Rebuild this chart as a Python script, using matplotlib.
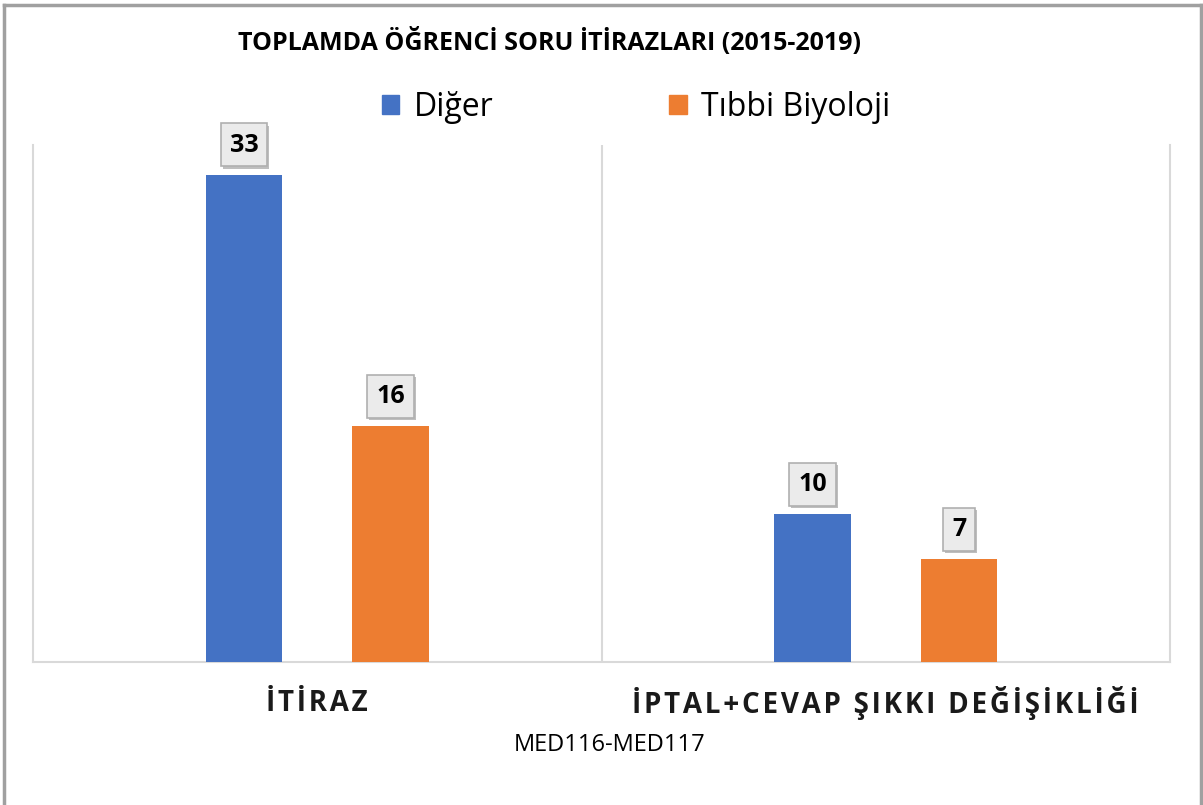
import matplotlib.pyplot as plt
import numpy as np
import matplotlib.patheffects as pe
from matplotlib.lines import Line2D
from matplotlib.patches import Patch

# data
categories = ["İTİRAZ", "İPTAL+CEVAP ŞIKKI DEĞİŞİKLİĞİ"]
series = ["Diğer", "Tıbbi Biyoloji"]
values = [[33, 10],   # Diğer
          [16, 7]]    # Tıbbi Biyoloji
colors = ["#4472C4", "#ED7D31"]

plt.rcParams['font.family'] = ['Open Sans', 'DejaVu Sans']

fig = plt.figure(figsize=(12.03, 8.05), dpi=100)
W, H = 1203, 805
ax = fig.add_axes([33 / W, (H - 662) / H, (1170 - 33) / W, (662 - 145) / H])

x = np.arange(len(categories))
bw = 0.135
offs = [-0.129, 0.129]
for i, s in enumerate(series):
    bars = ax.bar(x + offs[i], values[i], bw, color=colors[i], label=s, zorder=3)
    for b, v in zip(bars, values[i]):
        t = ax.text(b.get_x() + b.get_width() / 2, v + 2.0, str(v), ha='center', va='center',
                    fontsize=18, fontweight='bold', color='black', zorder=5,
                    bbox=dict(boxstyle='square,pad=0.36', fc='#ebebeb', ec='#b0b0b0', lw=1.2))
        t.get_bbox_patch().set_path_effects([pe.SimplePatchShadow(offset=(1.5, -1.5), alpha=0.35),
                                             pe.Normal()])

ax.set_xlim(-0.5, 1.5)
ax.set_ylim(0, 35)
ax.set_yticks([])
ax.set_xticks([])
ax.spines['top'].set_visible(False)
for sp in ['left', 'right', 'bottom']:
    ax.spines[sp].set_color('#d9d9d9')
    ax.spines[sp].set_linewidth(1.5)
ax.axvline(0.5, color='#d9d9d9', lw=1.5, zorder=1)

for xi, c in zip(x, categories):
    ax.text(xi, -2.8, '\u200a'.join(c), ha='center', va='center', fontsize=20,
            fontweight='bold', color='#1a1a1a')

fig.text(550 / W, 1 - 42 / H, "TOPLAMDA ÖĞRENCİ SORU İTİRAZLARI (2015-2019)",
         ha='center', va='center', fontsize=18, fontweight='bold')
fig.text(610 / W, 1 - 745 / H, "MED116-MED117", ha='center', va='center', fontsize=17)

handles = [Patch(color=colors[i], label=series[i]) for i in range(2)]
fig.legend(handles=handles, loc='center', bbox_to_anchor=(636 / W, 1 - 107 / H), ncol=2,
           frameon=False, fontsize=23, handlelength=0.55, handleheight=0.55,
           handletextpad=0.45, columnspacing=5.5)

# outer chart border
fig.add_artist(Line2D([4 / W, 4 / W], [0, 1 - 5 / H], color='#a0a0a0', lw=2.5))
fig.add_artist(Line2D([4 / W, 1201 / W], [1 - 5 / H, 1 - 5 / H], color='#a0a0a0', lw=2.5))
fig.add_artist(Line2D([1201 / W, 1201 / W], [0, 1 - 5 / H], color='#a0a0a0', lw=2.5))

fig.savefig("out.png", dpi=100)
